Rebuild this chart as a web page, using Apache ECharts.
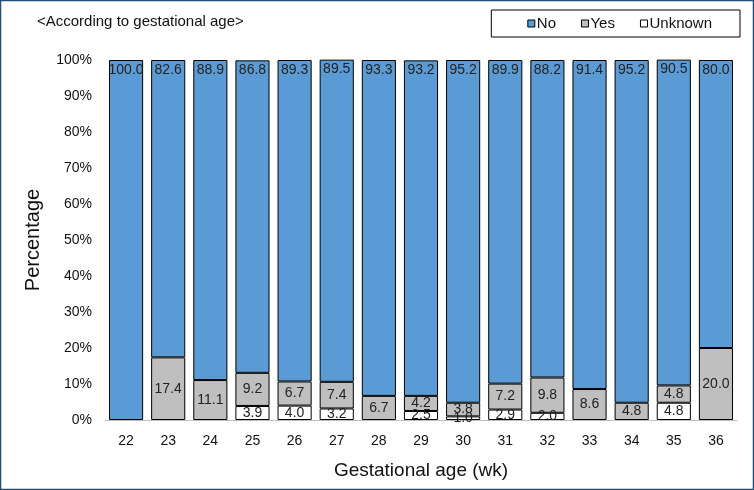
<!DOCTYPE html>
<html><head><meta charset="utf-8">
<script src="https://cdn.jsdelivr.net/npm/echarts@6/dist/echarts.min.js"></script>
<style>html,body{margin:0;padding:0;background:#fff}#c{width:754px;height:490px}</style>
</head><body><div id="c"></div>
<script>
const categories = ['22','23','24','25','26','27','28','29','30','31','32','33','34','35','36'];
const noVals = [100.0, 82.6, 88.9, 86.8, 89.3, 89.5, 93.3, 93.2, 95.2, 89.9, 88.2, 91.4, 95.2, 90.5, 80.0];
const yesVals = [0, 17.4, 11.1, 9.2, 6.7, 7.4, 6.7, 4.2, 3.8, 7.2, 9.8, 8.6, 4.8, 4.8, 20.0];
const unknownVals = [0, 0, 0, 3.9, 4.0, 3.2, 0, 2.5, 1.0, 2.9, 2.0, 0, 0, 4.8, 0];
const yTicks = [0,10,20,30,40,50,60,70,80,90,100];

const chart = echarts.init(document.getElementById('c'), null, {renderer:'canvas'});
const fontFam = 'Arial, "Liberation Sans", sans-serif';
const nz = arr => arr.map(v => v > 0 ? v : '-');
const lbl = (pos) => ({
  show: true, position: pos, color: '#222', fontSize: 14, fontFamily: fontFam,
  formatter: p => (typeof p.value === 'number' && p.value > 0) ? p.value.toFixed(1) : ''
});
chart.setOption({
  animation: false,
  textStyle: {fontFamily: fontFam},
  graphic: [{type:'rect', shape:{x:0.5,y:0.5,width:753,height:489}, style:{fill:'none', stroke:'#1F4E79', lineWidth:1.5}, z:-1},
    {type:'text', left:37, top:14, style:{text:'<According to gestational age>', fontSize:15, fill:'#111', fontFamily:fontFam}}],
  legend: {
    data: ['No','Yes','Unknown'], right: 14, top: 10, height: 28,
    padding: [6, 28, 6, 36], borderColor: '#000', borderWidth: 1,
    itemWidth: 7, itemHeight: 7, itemGap: 25, icon: 'rect',
    itemStyle: {borderColor: '#000', borderWidth: 1},
    textStyle: {fontSize: 15, color:'#111', fontFamily: fontFam, padding:[0,0,0,-3]}
  },
  grid: {left: 105, right: 17, top: 60, bottom: 70},
  xAxis: {
    type: 'category', data: categories,
    name: 'Gestational age (wk)', nameLocation: 'middle', nameGap: 41,
    nameTextStyle: {fontSize: 19, color:'#111', fontFamily: fontFam},
    axisLine: {lineStyle:{color:'#BFBFBF', width:1}},
    axisTick: {show:false},
    axisLabel: {fontSize: 14, color:'#111', margin: 14}
  },
  yAxis: {
    type: 'value', min: 0, max: 100, interval: 10,
    name: 'Percentage', nameLocation: 'middle', nameGap: 62, nameRotate: 90,
    nameTextStyle: {fontSize: 20, color:'#111', fontFamily: fontFam},
    axisLine: {show:false}, axisTick:{show:false}, splitLine:{show:false},
    axisLabel: {fontSize: 14, color:'#111', margin: 13, formatter: v => yTicks.includes(v) ? v + '%' : ''}
  },
  series: [
    {name:'Unknown', type:'bar', stack:'s', data: nz(unknownVals), barCategoryGap:'19%',
     itemStyle:{color:'#FFFFFF', borderColor:'#000', borderWidth:1}, label: lbl('inside')},
    {name:'Yes', type:'bar', stack:'s', data: nz(yesVals),
     itemStyle:{color:'#BFBFBF', borderColor:'#000', borderWidth:1}, label: lbl('inside')},
    {name:'No', type:'bar', stack:'s', data: nz(noVals),
     itemStyle:{color:'#5B9BD5', borderColor:'#000', borderWidth:1}, label: Object.assign(lbl('insideTop'), {distance: 3})}
  ]
});
</script></body></html>
